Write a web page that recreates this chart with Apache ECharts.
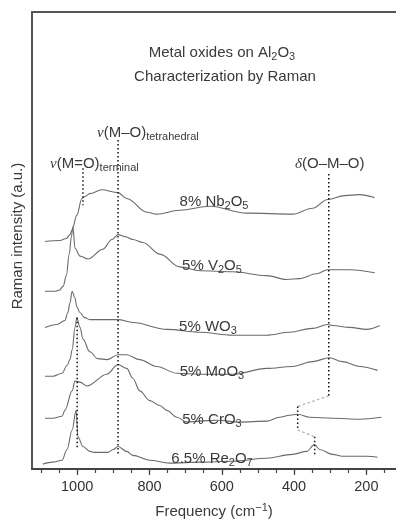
<!DOCTYPE html>
<html>
<head>
<meta charset="utf-8">
<script src="https://cdn.jsdelivr.net/npm/echarts@6/dist/echarts.min.js"></script>
<style>html,body{margin:0;padding:0;background:#fff;}#c{width:396px;height:524px;}</style>
</head>
<body>
<div id="c"></div>
<script>
// Raman spectra: [wavenumber (cm-1), intensity (a.u., offset stacked)]
const nb2o5 = [[1089,233],[1048,234],[1030,236],[1020,240],[1014,245],[1001,260],[987,277],[979,279],[965,282],[932,286],[887,283],[863,277],[807,263],[780,261],[716,265],[633,269],[531,262],[404,261],[349,267],[307,276],[260,280],[219,281],[177,278]];
const v2o5 = [[1089,182],[1061,182],[1050,183],[1039,187],[1030,198],[1022,220],[1016,238],[1012,248],[1006,226],[992,218],[970,215],[929,225],[904,235],[887,240],[868,238],[846,235],[818,232],[771,220],[716,207],[661,203],[570,202],[476,198],[420,194],[385,195],[338,200],[307,204],[246,204],[177,201]];
const wo3 = [[1089,145],[1056,148],[1034,152],[1026,160],[1020,170],[1014,182],[1006,175],[1001,166],[992,160],[979,155],[965,153],[937,153],[887,153],[846,150],[752,143],[661,140],[570,137],[476,137],[412,140],[349,144],[307,148],[293,147],[246,145],[199,143],[163,147]];
const moo3 = [[1089,95],[1067,95],[1042,98],[1028,106],[1020,112],[1014,122],[1006,145],[1001,155],[992,145],[984,133],[965,120],[943,113],[918,112],[887,117],[863,117],[827,112],[780,105],[724,98],[661,97],[570,97],[476,103],[404,105],[349,110],[302,114],[266,110],[219,105],[169,101]];
const cro3 = [[1089,52],[1067,52],[1042,54],[1034,60],[1014,80],[1006,90],[992,89],[973,85],[918,97],[887,107],[863,103],[846,93],[827,80],[799,70],[771,65],[752,60],[724,53],[697,48],[661,49],[614,50],[550,48],[476,49],[440,53],[412,55],[390,56],[357,53],[293,52],[219,51],[158,53]];
const re2o7 = [[1095,5],[1067,7],[1042,9],[1028,20],[1014,40],[1003,60],[998,33],[984,23],[965,18],[951,17],[915,17],[900,20],[887,23],[863,18],[846,14],[799,9],[744,6],[661,7],[570,8],[476,11],[404,15],[365,18],[344,25],[329,20],[293,15],[266,13],[199,13],[169,12]];

// Band marker lines
const terminalTop = [[984,308],[984,270]];
const terminalLow = [[1000,155],[1000,22]];
const tetraLine = [[887,337],[887,15]];
const deltaLine = [[304,302],[304,75]];
const crLine = [[390,64],[390,40]];
const reLine = [[343,33],[343,13]];
const link1 = [[304,75],[390,64]];
const link2 = [[390,40],[343,33]];

const majorTicks = [1000,800,600,400,200];
const minorTicks = [1100,1050,1000,950,900,850,800,750,700,650,600,550,500,450,400,350,300,250,200,150];

const FONT = '"Liberation Sans", Arial, Helvetica, sans-serif';
const TXT = '#3a3a3a';
const rich = {
  n: {fontSize: 15, lineHeight: 19, fontFamily: FONT, fill: TXT, color: TXT},
  s: {fontSize: 11, lineHeight: 11, verticalAlign: 'bottom', fontFamily: FONT, fill: TXT, color: TXT},
  p: {fontSize: 11, lineHeight: 11, verticalAlign: 'top', fontFamily: FONT, fill: TXT, color: TXT},
  g: {fontSize: 15, lineHeight: 19, fontFamily: '"Liberation Serif", "Times New Roman", serif', fontStyle: 'italic', fill: TXT, color: TXT}
};

function txt(text, x, y, align) {
  return {type: 'text', x: x, y: y, z: 100,
    style: {text: text, rich: rich, align: align || 'center', verticalAlign: 'middle',
      textAlign: align || 'center', textVerticalAlign: 'middle', fill: TXT, font: '15px ' + FONT}};
}

const curve = (d) => ({type: 'line', data: d, showSymbol: false, smooth: 0.35, smoothMonotone: 'x',
  lineStyle: {color: '#6a6a6a', width: 1.1}, silent: true});
const dotted = (d) => ({type: 'line', data: d, showSymbol: false, silent: true,
  lineStyle: {color: '#111', width: 1.5, type: [1.5, 2.5]}, z: 5});
const dashedLight = (d) => ({type: 'line', data: d, showSymbol: false, silent: true,
  lineStyle: {color: '#aaa', width: 1.2, type: [2.5, 2.5]}, z: 4});

const xBase = {type: 'value', min: 118, max: 1125, inverse: true, splitLine: {show: false}};

const chart = echarts.init(document.getElementById('c'), null, {renderer: 'canvas'});
chart.setOption({
  animation: false,
  backgroundColor: '#fff',
  grid: {left: 32, right: 0, top: 12, bottom: 44, containLabel: false},
  xAxis: [
    Object.assign({}, xBase, {
      position: 'bottom',
      axisLine: {show: true, lineStyle: {color: '#444', width: 2}},
      axisTick: {show: true, customValues: minorTicks, length: 4, inside: false, lineStyle: {color: '#444', width: 1.2}},
      axisLabel: {show: true, customValues: majorTicks, margin: 10, color: '#333', fontSize: 14.5, fontFamily: FONT,
        formatter: (v) => String(v)},
      name: '{n|Frequency (cm}{p|−1}{n|)}',
      nameLocation: 'middle', nameGap: 33,
      nameTextStyle: {rich: rich, color: TXT}
    }),
    Object.assign({}, xBase, {
      position: 'bottom',
      axisLine: {show: false},
      axisTick: {show: true, customValues: majorTicks, length: 6, lineStyle: {color: '#444', width: 1.2}},
      axisLabel: {show: false}
    }),
    Object.assign({}, xBase, {
      position: 'top',
      axisLine: {show: true, lineStyle: {color: '#555', width: 2}},
      axisTick: {show: false},
      axisLabel: {show: false}
    })
  ],
  yAxis: {
    type: 'value', min: 0, max: 468,
    axisLine: {show: true, lineStyle: {color: '#555', width: 2}},
    axisTick: {show: false}, axisLabel: {show: false}, splitLine: {show: false}
  },
  series: [
    curve(nb2o5), curve(v2o5), curve(wo3), curve(moo3), curve(cro3), curve(re2o7),
    dotted(terminalTop), dotted(terminalLow), dotted(tetraLine), dotted(deltaLine),
    dotted(crLine), dotted(reLine), dashedLight(link1), dashedLight(link2)
  ],
  graphic: [
    txt('{n|Metal oxides on Al}{s|2}{n|O}{s|3}', 222, 53),
    txt('{n|Characterization by Raman}', 225, 77),
    txt('{g|ν}{n|(M–O)}{s|tetrahedral}', 97, 133, 'left'),
    txt('{g|ν}{n|(M=O)}{s|terminal}', 50, 164, 'left'),
    txt('{g|δ}{n|(O–M–O)}', 295, 164, 'left'),
    txt('{n|8% Nb}{s|2}{n|O}{s|5}', 214, 202),
    txt('{n|5% V}{s|2}{n|O}{s|5}', 212, 266),
    txt('{n|5% WO}{s|3}', 208, 327),
    txt('{n|5% MoO}{s|3}', 212, 372),
    txt('{n|5% CrO}{s|3}', 212, 420),
    txt('{n|6.5% Re}{s|2}{n|O}{s|7}', 212, 459),
    {type: 'text', x: 18, y: 236, rotation: Math.PI / 2, z: 100,
      style: {text: 'Raman intensity (a.u.)', align: 'center', verticalAlign: 'middle',
        textAlign: 'center', textVerticalAlign: 'middle', fill: TXT, font: '15px ' + FONT}}
  ]
});
</script>
</body>
</html>
